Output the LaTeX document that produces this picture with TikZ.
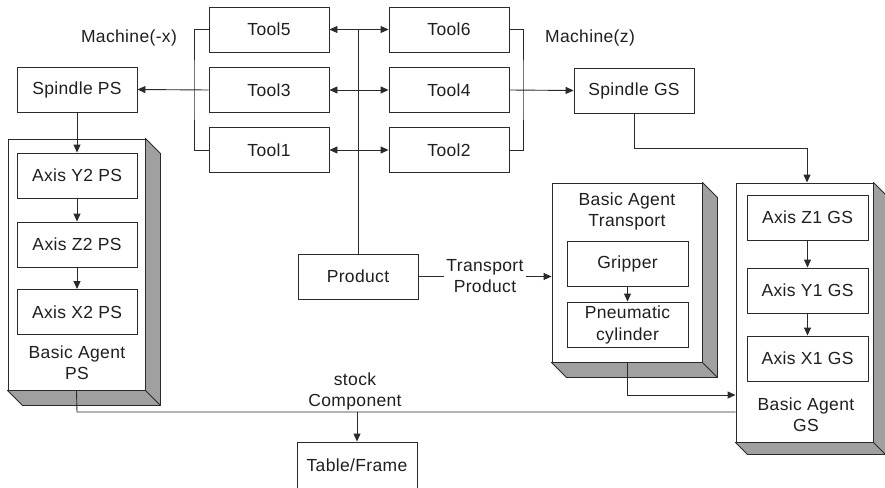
\documentclass[tikz,border=0pt]{standalone}
\usepackage{fontspec}
\setmainfont{Liberation Sans}[LetterSpace=2]
\usetikzlibrary{arrows.meta,calc}
\definecolor{linec}{HTML}{2A2A2A}
\definecolor{shadec}{HTML}{A0A0A0}
\begin{document}
\begin{tikzpicture}[x=1pt,y=-1pt,
  every node/.style={font=\fontsize{17.5}{21}\selectfont, inner sep=0pt, text=black!88},
  box/.style={draw=linec, line width=0.9pt, minimum width=120pt, minimum height=45pt, align=center, fill=white},
  agent/.style={draw=linec, line width=0.9pt, fill=white},
  lbl/.style={align=center},
  conn/.style={draw=linec, line width=0.9pt},
  arr/.style={conn, -{Triangle[length=8pt,width=7pt]}},
  darr/.style={conn, {Triangle[length=8pt,width=7pt]}-{Triangle[length=8pt,width=7pt]}},
  shade/.style={draw=linec, line width=0.9pt, fill=shadec, line join=round}]
\useasboundingbox (0,0) rectangle (885,487);

% 3D agent boxes
\node[agent, minimum width=137pt, minimum height=251pt] (baps) at (76.5,264.5) {};
\node[agent, minimum width=150pt, minimum height=179pt] (trbox) at (627,272.5) {};
\node[agent, minimum width=137pt, minimum height=259pt] (gsbox) at (804.5,312.5) {};
\foreach \b/\o in {baps/15,trbox/15,gsbox/12}{
  \draw[shade] (\b.north east) -- ++(\o,\o) -- ($(\b.south east)+(\o,\o)$) -- ($(\b.south west)+(\o,\o)$) -- (\b.south west) -- (\b.south east) -- cycle;
  \draw[conn] (\b.south east) -- ++(\o,\o);
}

% tools
\node[box] (t5) at (269,29.5) {Tool5};
\node[box] (t3) at (269,90) {Tool3};
\node[box] (t1) at (269,150) {Tool1};
\node[box] (t6) at (449,29.5) {Tool6};
\node[box] (t4) at (449,90) {Tool4};
\node[box] (t2) at (449,150) {Tool2};

% spindles
\node[box] (sps) at (77,89.5) {Spindle PS};
\node[box] (sgs) at (634,90.5) {Spindle GS};

% PS axes
\node[box] (ay2) at (77,175.5) {Axis Y2 PS};
\node[box] (az2) at (77,244.5) {Axis Z2 PS};
\node[box] (ax2) at (77,312) {Axis X2 PS};
\node[lbl] (lps) at (77,363) {Basic Agent\\PS};

% transport
\node[lbl] (ltr) at (627,211) {Basic Agent\\Transport};
\node[box, minimum width=121pt] (grip) at (627.5,264) {Gripper};
\node[box, minimum width=121pt, font=\fontsize{17.5}{22}\selectfont] (pneu) at (627.5,324.5) {Pneumatic\\cylinder};

% GS axes
\node[box, minimum width=121pt] (az1) at (807.5,217.5) {Axis Z1 GS};
\node[box, minimum width=121pt] (ay1) at (807.5,290.5) {Axis Y1 GS};
\node[box, minimum width=121pt] (ax1) at (807.5,358.5) {Axis X1 GS};
\node[lbl] (lgs) at (806,415) {Basic Agent\\GS};

% product, table
\node[box] (prod) at (358,276.5) {Product};
\node[box, minimum height=46pt] (table) at (357,465) {Table/Frame};

% labels
\node (mx) at (129,38) {Machine(-x)};
\node (mz) at (590,38) {Machine(z)};
\node[lbl] (stock) at (355,391) {stock\\Component};

% coordinates
\coordinate (lb) at (194,90);
\coordinate (rb) at (523,90);
\coordinate (k) at (807,148);
\coordinate (bus) at (77,412);
\coordinate (tj) at (357,412);

% connectors
\draw[conn] (t5.west) -| (lb) |- (t1.west);
\draw[arr] (t3.west) -- (sps.east);
\draw[conn] (t6.east) -| (rb) |- (t2.east);
\draw[arr] (t4.east) -- (sgs.west);
\draw[darr] (t5.east) -- (t6.west);
\draw[darr] (t3.east) -- (t4.west);
\draw[darr] (t1.east) -- (t2.west);
\draw[conn] (prod.north) -- (prod.north |- t5.east);

\draw[arr] (sps.south) -- (ay2.north);
\draw[arr] (ay2.south) -- (az2.north);
\draw[arr] (az2.south) -- (ax2.north);

\draw[arr] (sgs.south) |- (k) -- (k |- gsbox.north);
\draw[arr] (az1.south) -- (ay1.north);
\draw[arr] (ay1.south) -- (ax1.north);

\draw[arr] (grip.south) -- (pneu.north);
\draw[arr] (trbox.south) |- ($(gsbox.west)+(0,82.5)$);

\draw[arr] (prod.east) -- node[fill=white, lbl, inner xsep=2pt] (tp) {Transport\\Product} (prod.east -| trbox.west);

\draw[conn] (baps.south) -- (bus) -- (bus -| gsbox.west);
\draw[arr] (tj) -- (table.north);
\end{tikzpicture}
\end{document}
